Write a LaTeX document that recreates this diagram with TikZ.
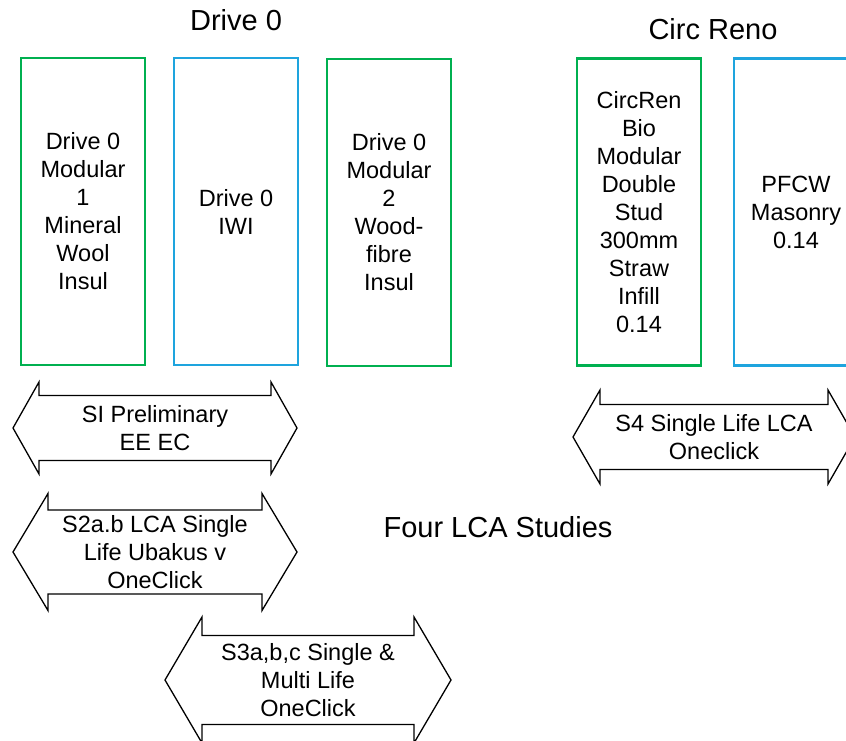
\documentclass[tikz,border=0pt]{standalone}
\usepackage{fontspec}
\setmainfont{Liberation Sans}
\definecolor{biogreen}{RGB}{0,176,80}
\definecolor{tradblue}{RGB}{30,164,222}

\begin{document}
\begin{tikzpicture}[x=1pt, y=-1pt,
    wall/.style={draw, line width=2.6pt, minimum width=124pt, minimum height=307pt,
      inner sep=0pt, align=center, font=\fontsize{23.5}{28}\selectfont},
    biowall/.style={wall, draw=biogreen},
    tradwall/.style={wall, draw=tradblue},
    study/.style={draw, line width=1.3pt, line join=miter},
    studylabel/.style={align=center, font=\fontsize{23.5}{28}\selectfont},
    heading/.style={anchor=base, font=\fontsize{29}{34}\selectfont}]
  \clip (0,0) rectangle (846,741);

  % Drive 0 walls
  \node[heading] (drivetitle) at (236,31) {Drive 0};
  \node[biowall] (dmodone) at (83,211.5) {Drive 0\\Modular\\1\\Mineral\\Wool\\Insul};
  \node[tradwall] (diwi) at (236,211.5) {Drive 0\\IWI};
  \node[biowall] (dmodtwo) at (389,212.5) {Drive 0\\Modular\\2\\Wood-\\fibre\\Insul};

  % Circ Reno walls
  \node[heading] (circtitle) at (713,40) {Circ Reno};
  \node[biowall] (circbio) at (639,212) {CircRen\\Bio\\Modular\\Double\\Stud\\300mm\\Straw\\Infill\\0.14};
  \node[tradwall] (pfcw) at (796,212) {PFCW\\Masonry\\0.14};

  % the four studies
  \foreach \l/\r/\c/\s/\h/\k in {13/297/428/32.5/46/26, 13/297/552/42/58.5/35,
                                  165/451/680/44.5/63/37, 573/855/437/32.5/47/27}{
    \draw[study] (\l,\c) -- (\l+\k,\c-\h) -- (\l+\k,\c-\s) -- (\r-\k,\c-\s)
      -- (\r-\k,\c-\h) -- (\r,\c) -- (\r-\k,\c+\h) -- (\r-\k,\c+\s)
      -- (\l+\k,\c+\s) -- (\l+\k,\c+\h) -- cycle;
  }
  \node[studylabel] (sione) at (155,428) {SI Preliminary\\EE EC};
  \node[studylabel] (stwo) at (155,552) {S2a.b LCA Single\\Life Ubakus v\\OneClick};
  \node[studylabel] (sthree) at (308,680) {S3a,b,c Single \&\\Multi Life\\OneClick};
  \node[studylabel] (sfour) at (714,437) {S4 Single Life LCA\\Oneclick};

  \node[heading] (fourlca) at (498,537) {Four LCA Studies};
\end{tikzpicture}
\end{document}
